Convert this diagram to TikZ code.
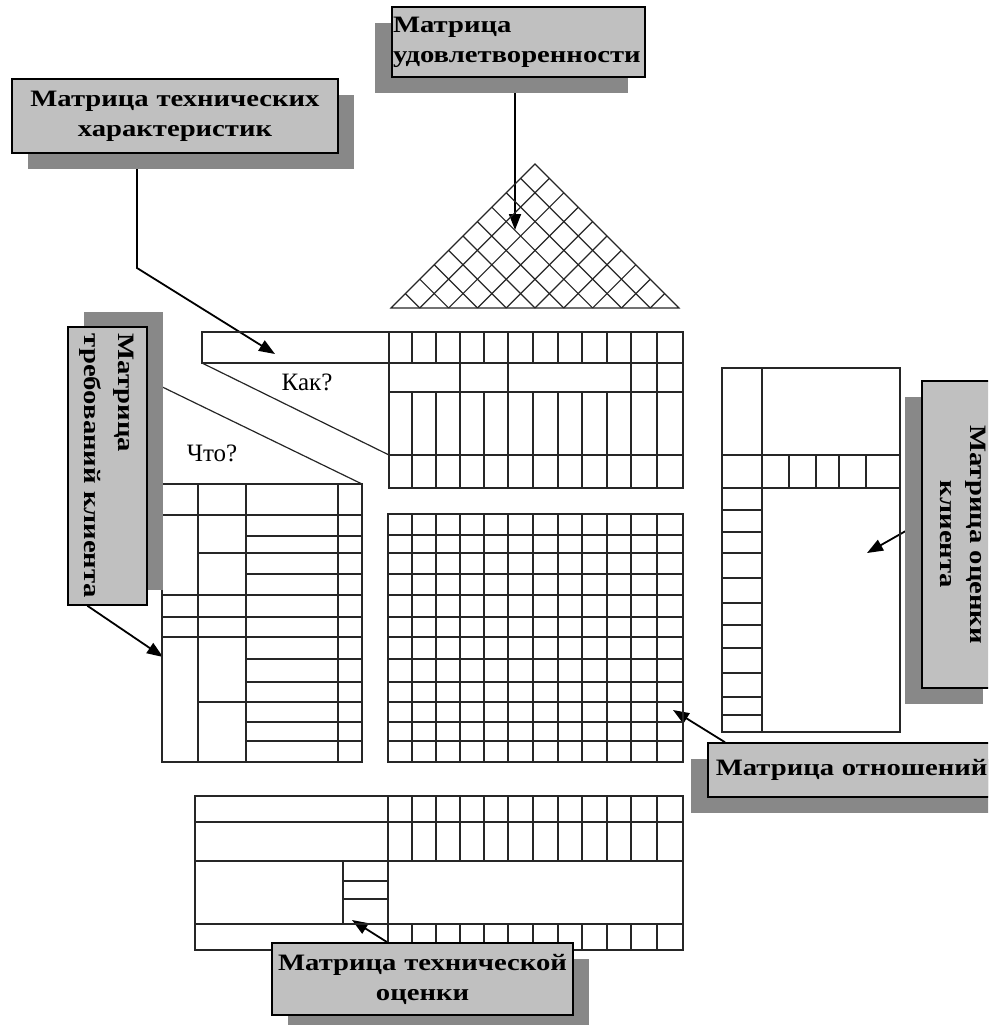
\documentclass[tikz,border=0pt]{standalone}
\usepackage{fontspec}
\setmainfont{Liberation Serif}
\newfontfamily\labelfont{Liberation Serif}[FakeStretch=1.22]
\usetikzlibrary{arrows.meta,calc,shadows,backgrounds}

\definecolor{boxgray}{RGB}{192,192,192}
\definecolor{shadowgray}{RGB}{136,136,136}

\tikzset{
	every picture/.style={line width=1.2pt},
	grid line/.style={line width=1.2pt, black!85},
	label box/.style={draw, line width=1.5pt, fill=boxgray, inner sep=4pt,
		font=\labelfont\bfseries\fontsize{23.5}{30}\selectfont},
	shadow dl/.style={general shadow={fill=shadowgray, shadow xshift=-17pt, shadow yshift=-16pt}},
	shadow dr/.style={general shadow={fill=shadowgray, shadow xshift=16pt, shadow yshift=-16pt}},
	shadow ur/.style={general shadow={fill=shadowgray, shadow xshift=16pt, shadow yshift=15pt}},
	pointer/.style={line width=1.8pt, -{Triangle[length=16pt,width=12pt]}},
	ask/.style={font=\fontsize{25}{28}\selectfont}
}

\begin{document}
\begin{tikzpicture}[x=1pt,y=-1pt]
	\path[use as bounding box] (0,0) rectangle (988,1025);
	\clip (0,0) rectangle (988,1025);

	%Shape: Triangle (roof)
	\draw[grid line] (391,308) -- (535,164) -- (679,308) -- cycle;
	\foreach \k in {1,...,9} {
		\draw[grid line] (391+28.8*\k,308) -- (535+14.4*\k,164+14.4*\k);
		\draw[grid line] (391+28.8*\k,308) -- (391+14.4*\k,308-14.4*\k);
	}

	%Shape: Table (how)
	\draw[grid line] (202,332) rectangle (683,363);
	\draw[grid line] (389,363) rectangle (683,488);
	\draw[grid line] (389,392) -- (683,392);
	\draw[grid line] (389,455) -- (683,455);
	\foreach \x in {389,412,436,460,484,508,533,558,582,607,631,657} {
		\draw[grid line] (\x,332) -- (\x,363);
		\draw[grid line] (\x,392) -- (\x,488);
	}
	\foreach \x in {460,508,631,657}
		\draw[grid line] (\x,363) -- (\x,392);
	\draw[grid line] (202,363) -- (389,455);
	\draw[grid line] (150,381) -- (362,484);

	%Shape: Table (what)
	\draw[grid line] (162,484) rectangle (362,762);
	\foreach \x in {198,246,338}
		\draw[grid line] (\x,484) -- (\x,762);
	\foreach \y/\from in {515/162,536/246,553/198,574/246,595/162,617/162,637/162,659/246,682/246,702/198,722/246,741/246}
		\draw[grid line] (\from,\y) -- (362,\y);

	%Shape: Table (relations)
	\draw[grid line] (388,514) rectangle (683,762);
	\foreach \x in {412,436,460,484,508,533,558,582,607,631,657}
		\draw[grid line] (\x,514) -- (\x,762);
	\foreach \y in {535,553,574,595,617,637,659,682,702,722,741}
		\draw[grid line] (388,\y) -- (683,\y);

	%Shape: Table (customer)
	\draw[grid line] (722,368) rectangle (900,732);
	\draw[grid line] (762,368) -- (762,732);
	\draw[grid line] (722,455) -- (900,455);
	\draw[grid line] (722,488) -- (900,488);
	\foreach \x in {789,816,839,866}
		\draw[grid line] (\x,455) -- (\x,488);
	\foreach \y in {510,532,553,578,603,625,648,673,697,715}
		\draw[grid line] (722,\y) -- (762,\y);

	%Shape: Table (technical)
	\draw[grid line] (195,796) rectangle (683,950);
	\foreach \y in {822,861,924}
		\draw[grid line] (195,\y) -- (683,\y);
	\draw[grid line] (388,796) -- (388,950);
	\foreach \x in {412,436,460,484,508,533,558,582,607,631,657} {
		\draw[grid line] (\x,796) -- (\x,861);
		\draw[grid line] (\x,924) -- (\x,950);
	}
	\draw[grid line] (343,861) -- (343,924);
	\foreach \y in {881,899}
		\draw[grid line] (343,\y) -- (388,\y);

	% Text Node
	\node[ask] (how) at (307,382) {Как?};
	% Text Node
	\node[ask] (what) at (212,453) {Что?};

	% Label boxes
	\node[label box, shadow dl, minimum height=70pt, text width=251pt, inner xsep=1pt, align=left] (sat) at (518.5,42) {Матрица\\удовлетворенности};
	\node[label box, shadow dr, minimum height=74pt, text width=318pt, align=center] (techchar) at (175,116) {Матрица технических\\характеристик};
	\node[label box, shadow ur, minimum width=79pt, minimum height=278pt, inner sep=0pt] (req) at (107.5,466)
		{\rotatebox{-90}{\begin{tabular}{@{}l@{}}Матрица\\[4pt]требований клиента\end{tabular}}};
	\node[label box, shadow dl, minimum width=78pt, minimum height=307pt, inner sep=0pt] (cust) at (961,534.5)
		{\rotatebox{-90}{\begin{tabular}{@{}c@{}}Матрица оценки\\клиента\end{tabular}}};
	\node[label box, shadow dl, anchor=west, minimum height=54pt, text width=300pt, inner xsep=8pt, align=left] (rel) at (707,770) {Матрица отношений};
	\node[label box, shadow dr, minimum height=72pt, text width=293pt, align=center] (techass) at (422.5,979) {Матрица технической\\оценки};

	% Arrow ends
	\coordinate (satTip) at (515,230);
	\coordinate (techBend) at (137,268);
	\coordinate (techTip) at (275,354);
	\coordinate (reqTip) at (163,657);
	\coordinate (custTip) at (867,553);
	\coordinate (relTip) at (673,710);
	\coordinate (techassTip) at (352,920);

	\begin{scope}[on background layer]
		\draw[pointer] (sat.south -| satTip) -- (satTip);
		\draw[pointer] (techchar.south -| techBend) -- (techBend) -- (techTip);
		\draw[pointer] ($(req.south west)!0.25!(req.south east)$) -- (reqTip);
		\draw[pointer] ($(cust.north west)!0.46!(cust.south west)$) -- (custTip);
		\draw[pointer] ($(rel.north west)+(18,0)$) -- (relTip);
		\draw[pointer] ($(techass.north west)+(116,0)$) -- (techassTip);
	\end{scope}
\end{tikzpicture}
\end{document}
